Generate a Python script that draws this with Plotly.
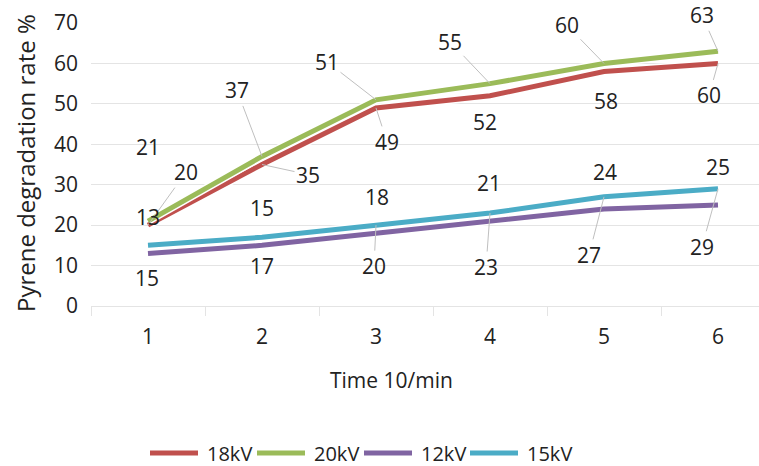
import plotly.graph_objects as go

# Degradation data
time_points = [1, 2, 3, 4, 5, 6]
series_names = ["18kV", "20kV", "12kV", "15kV"]
rate_18kv = [20, 35, 49, 52, 58, 60]
rate_20kv = [21, 37, 51, 55, 60, 63]
rate_12kv = [13, 15, 18, 21, 24, 25]
rate_15kv = [15, 17, 20, 23, 27, 29]
y_ticks = [0, 10, 20, 30, 40, 50, 60, 70]

series_values = [rate_18kv, rate_20kv, rate_12kv, rate_15kv]
colors = ["#C0504D", "#9BBB59", "#8064A2", "#4BACC6"]

# Pixel offsets (dx, dy) of each data label from its point, and leader visibility
label_offsets = [
    [(38, -53), (46, 10), (11, 34), (-5, 26), (2, 29), (-9, 32)],
    [(0, -74), (-25, -66), (-49, -38), (-40, -42), (-37, -38), (-16, -36)],
    [(0, -36), (0, -37), (1, -36), (-1, -38), (1, -37), (0, -38)],
    [(-1, 33), (0, 29), (-2, 41), (-4, 54), (-15, 58), (-16, 58)],
]
leaders = [
    [True, True, True, False, False, True],
    [False, True, True, True, True, True],
    [False] * 6,
    [False, False, True, True, True, True],
]

FONT = "Open Sans"
TXT = "#222222"
GRID = "#e4e4e4"

# plot area in pixels
L, R, T, B = 91, 759, 23, 306


def px_x(p):
    return (p - L) / (R - L)


def px_y(p):
    return (B - p) / (B - T)


fig = go.Figure()

for name, vals, col in zip(series_names, series_values, colors):
    fig.add_trace(go.Scatter(
        x=time_points, y=vals, mode="lines",
        line=dict(color="white", width=8), hoverinfo="skip", showlegend=False))
    fig.add_trace(go.Scatter(
        x=time_points, y=vals, mode="lines", name=name,
        line=dict(color=col, width=5), showlegend=False))

annotations = []
for vals, offs, lead in zip(series_values, label_offsets, leaders):
    for xv, yv, (dx, dy), show in zip(time_points, vals, offs, lead):
        annotations.append(dict(
            x=xv, y=yv, xref="x", yref="y", text=str(yv),
            ax=dx, ay=dy, axref="pixel", ayref="pixel",
            showarrow=True, arrowhead=0, arrowwidth=1,
            arrowcolor="#bfbfbf" if show else "rgba(0,0,0,0)",
            standoff=0, font=dict(family=FONT, size=21, color=TXT)))

# axis titles
annotations.append(dict(
    x=px_x(391), y=px_y(380), xref="paper", yref="paper",
    text="Time 10/min", showarrow=False, xanchor="center", yanchor="middle",
    font=dict(family=FONT, size=21, color=TXT)))
annotations.append(dict(
    x=px_x(25), y=px_y(163), xref="paper", yref="paper",
    text="Pyrene degradation rate %", textangle=-90, showarrow=False,
    xanchor="center", yanchor="middle",
    font=dict(family=FONT, size=24, color=TXT)))

# legend
shapes = []
legend_x = [148, 255, 362, 468]
for name, col, lx in zip(series_names, colors, legend_x):
    shapes.append(dict(
        type="line", xref="paper", yref="paper",
        x0=px_x(lx + 2), x1=px_x(lx + 50), y0=px_y(453), y1=px_y(453),
        line=dict(color=col, width=5)))
    annotations.append(dict(
        x=px_x(lx + 57), y=px_y(453), xref="paper", yref="paper",
        text=name, showarrow=False, xanchor="left", yanchor="middle",
        font=dict(family=FONT, size=20, color=TXT)))

fig.update_layout(
    width=759, height=466,
    margin=dict(l=L, r=759 - R, t=T, b=466 - B),
    plot_bgcolor="white", paper_bgcolor="white",
    showlegend=False,
    annotations=annotations, shapes=shapes,
    xaxis=dict(
        range=[0.5, 0.5 + (R - L) / 114], tickvals=time_points,
        ticktext=[str(t) for t in time_points],
        showgrid=False, zeroline=False, showline=False,
        ticks="", ticklabelstandoff=16,
        tickfont=dict(family=FONT, size=21, color=TXT),
        minor=dict(tickvals=[0.5, 1.5, 2.5, 3.5, 4.5, 5.5, 6.5],
                   ticks="outside", ticklen=9, tickcolor=GRID, tickwidth=1),
    ),
    yaxis=dict(
        range=[0, 70], tickvals=y_ticks,
        showgrid=True, gridcolor=GRID, gridwidth=1,
        zeroline=True, zerolinecolor=GRID, zerolinewidth=1,
        showline=False, ticks="", ticklabelstandoff=12,
        tickfont=dict(family=FONT, size=21, color=TXT),
    ),
)

fig.write_html("out.html")
